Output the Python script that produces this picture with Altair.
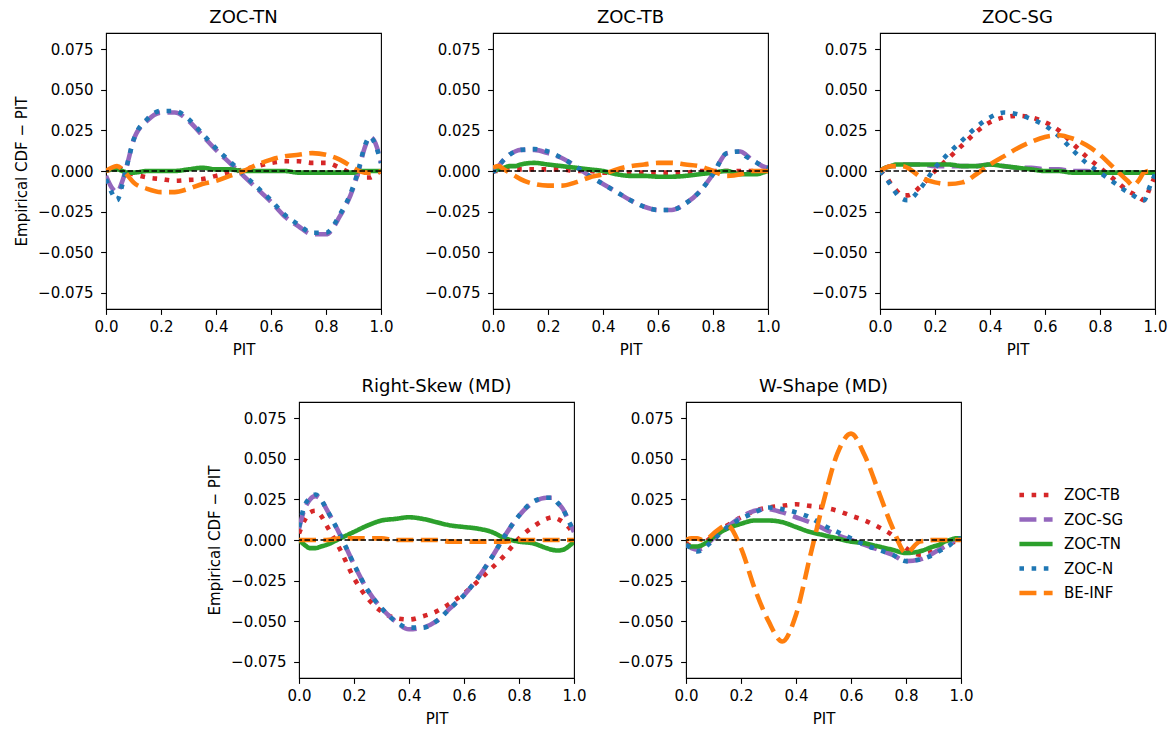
import altair as alt
import pandas as pd

X = [0, .02, .04, .06, .08, .10, .15, .20, .25, .30, .35, .40, .45, .50,
     .55, .60, .65, .70, .75, .80, .85, .90, .92, .94, .96, .98, 1.0]

MODELS = ["ZOC-TB", "ZOC-SG", "ZOC-TN", "ZOC-N", "BE-INF"]
COLORS = ["#d62728", "#9467bd", "#2ca02c", "#1f77b4", "#ff7f0e"]
DASHES = [[4.6, 7.6], [17, 7.4], [1, 0], [4.6, 7.6], [17, 7.4]]
PANELS = ["ZOC-TN", "ZOC-TB", "ZOC-SG", "Right-Skew (MD)", "W-Shape (MD)"]
Y_TICKS = [-0.075, -0.05, -0.025, 0.0, 0.025, 0.05, 0.075]
X_TICKS = [0.0, 0.2, 0.4, 0.6, 0.8, 1.0]

# Panel 1: ZOC-TN
p1_tb = [0.000, 0.001, 0.002, 0.001, -0.001, -0.002, -0.004, -0.005, -0.006, -0.0055, -0.005, -0.003, -0.001, 0.001,
         0.003, 0.005, 0.006, 0.006, 0.005, 0.005, 0.002, -0.002, -0.003, -0.004, -0.004, -0.002, 0.000]
p1_sg = [-0.003, -0.010, -0.013, -0.006, 0.006, 0.019, 0.031, 0.036, 0.036, 0.031, 0.022, 0.013, 0.005, -0.003,
         -0.011, -0.019, -0.028, -0.034, -0.039, -0.039, -0.028, -0.010, 0.001, 0.014, 0.021, 0.017, 0.005]
p1_tn = [0.000, 0.001, 0.001, 0.000, -0.001, -0.001, 0.000, 0.000, 0.000, 0.001, 0.002, 0.001, 0.001, 0.000,
         0.000, 0.000, 0.000, -0.001, -0.001, -0.001, -0.001, -0.001, 0.000, 0.000, 0.000, 0.000, 0.000]
p1_n = [-0.005, -0.013, -0.018, -0.008, 0.006, 0.019, 0.032, 0.037, 0.037, 0.032, 0.023, 0.014, 0.006, -0.002,
        -0.010, -0.018, -0.027, -0.033, -0.038, -0.038, -0.027, -0.009, 0.002, 0.015, 0.021, 0.016, 0.005]
p1_be = [0.000, 0.002, 0.003, 0.001, -0.003, -0.007, -0.011, -0.013, -0.013, -0.011, -0.008, -0.006, -0.003, 0.000,
         0.004, 0.007, 0.009, 0.010, 0.011, 0.010, 0.007, 0.002, 0.000, -0.001, -0.001, -0.001, 0.000]

# Panel 2: ZOC-TB
p2_tb = [0.000, 0.000, 0.001, 0.001, 0.001, 0.001, 0.001, 0.001, 0.001, 0.000, 0.000, -0.001, -0.001, -0.001,
         -0.001, -0.001, -0.001, -0.001, 0.000, 0.000, 0.000, 0.000, 0.000, 0.000, 0.000, 0.000, 0.000]
p2_sg = [-0.001, 0.003, 0.007, 0.010, 0.012, 0.013, 0.013, 0.011, 0.008, 0.003, -0.003, -0.008, -0.013, -0.018,
         -0.022, -0.024, -0.024, -0.020, -0.013, -0.002, 0.011, 0.012, 0.010, 0.007, 0.005, 0.003, 0.002]
p2_tn = [0.000, 0.001, 0.002, 0.003, 0.003, 0.004, 0.005, 0.004, 0.003, 0.002, 0.001, 0.000, -0.002, -0.003,
         -0.003, -0.0035, -0.0035, -0.003, -0.002, -0.001, 0.000, -0.002, -0.002, -0.002, -0.002, -0.001, 0.000]
p2_n = [-0.001, 0.003, 0.007, 0.010, 0.012, 0.013, 0.0135, 0.012, 0.008, 0.003, -0.003, -0.008, -0.013, -0.018,
        -0.022, -0.024, -0.024, -0.020, -0.013, -0.002, 0.011, 0.012, 0.009, 0.007, 0.005, 0.003, 0.002]
p2_be = [0.002, 0.003, 0.001, -0.001, -0.003, -0.005, -0.008, -0.009, -0.009, -0.007, -0.004, -0.002, 0.001, 0.003,
         0.004, 0.005, 0.005, 0.004, 0.003, 0.000, -0.003, -0.002, -0.001, 0.000, 0.000, 0.000, 0.000]

# Panel 3: ZOC-SG
p3_tb = [0.000, -0.003, -0.008, -0.012, -0.015, -0.015, -0.009, 0.000, 0.008, 0.016, 0.024, 0.030, 0.033, 0.034,
         0.033, 0.030, 0.025, 0.017, 0.009, 0.002, -0.005, -0.012, -0.014, -0.016, -0.018, -0.011, -0.003]
p3_sg = [0.000, 0.002, 0.003, 0.003, 0.004, 0.004, 0.004, 0.003, 0.003, 0.003, 0.003, 0.004, 0.003, 0.002,
         0.002, 0.001, 0.001, 0.000, 0.000, -0.001, -0.001, -0.001, -0.001, -0.001, -0.001, -0.001, -0.001]
p3_tn = [0.000, 0.002, 0.003, 0.004, 0.004, 0.004, 0.004, 0.004, 0.004, 0.003, 0.003, 0.004, 0.003, 0.002,
         0.001, 0.000, 0.000, -0.001, -0.001, -0.001, -0.001, -0.001, -0.001, -0.001, -0.001, -0.001, -0.001]
p3_n = [0.000, -0.004, -0.009, -0.014, -0.017, -0.018, -0.010, 0.002, 0.011, 0.019, 0.027, 0.033, 0.036, 0.035,
        0.032, 0.028, 0.0215, 0.013, 0.005, -0.001, -0.007, -0.013, -0.015, -0.017, -0.018, -0.010, -0.002]
p3_be = [0.000, 0.002, 0.003, 0.003, 0.003, 0.002, -0.004, -0.007, -0.008, -0.007, -0.002, 0.004, 0.009, 0.014,
         0.018, 0.021, 0.022, 0.020, 0.016, 0.010, 0.002, -0.006, -0.009, -0.006, -0.001, 0.000, 0.000]

# Panel 4: Right-Skew (MD)
p4_tb = [0.004, 0.012, 0.017, 0.018, 0.015, 0.009, -0.006, -0.0235, -0.036, -0.044, -0.048, -0.049, -0.047, -0.044,
         -0.039, -0.033, -0.0255, -0.0175, -0.009, 0.001, 0.008, 0.013, 0.014, 0.013, 0.011, 0.008, 0.003]
p4_sg = [0.007, 0.019, 0.025, 0.027, 0.025, 0.019, 0.003, -0.015, -0.031, -0.042, -0.050, -0.055, -0.054, -0.050,
         -0.042, -0.034, -0.0235, -0.011, 0.003, 0.015, 0.023, 0.026, 0.026, 0.023, 0.019, 0.012, 0.005]
p4_tn = [0.000, -0.003, -0.005, -0.005, -0.004, -0.003, 0.001, 0.005, 0.009, 0.012, 0.013, 0.014, 0.013, 0.011,
         0.009, 0.008, 0.007, 0.005, 0.001, -0.001, -0.002, -0.005, -0.006, -0.0065, -0.006, -0.004, -0.001]
p4_n = [0.008, 0.021, 0.026, 0.028, 0.025, 0.019, 0.003, -0.015, -0.031, -0.042, -0.050, -0.054, -0.054, -0.050,
        -0.042, -0.034, -0.0235, -0.011, 0.003, 0.015, 0.0235, 0.026, 0.026, 0.023, 0.019, 0.012, 0.005]
p4_be = [0.000, 0.000, 0.000, 0.000, 0.000, 0.000, 0.001, 0.001, 0.001, 0.001, 0.000, 0.000, 0.000, 0.000,
         -0.001, -0.001, -0.001, -0.001, -0.001, 0.000, 0.000, 0.000, 0.000, 0.000, 0.000, 0.000, 0.000]

# Panel 5: W-Shape (MD)
p5_tb = [-0.002, -0.004, -0.005, -0.003, 0.000, 0.003, 0.009, 0.014, 0.018, 0.020, 0.021, 0.022, 0.021, 0.020,
         0.018, 0.015, 0.012, 0.008, 0.003, -0.005, -0.009, -0.007, -0.006, -0.004, -0.002, -0.001, 0.000]
p5_sg = [-0.003, -0.005, -0.006, -0.005, -0.002, 0.001, 0.008, 0.014, 0.018, 0.019, 0.017, 0.014, 0.011, 0.007,
         0.003, 0.000, -0.003, -0.006, -0.009, -0.013, -0.012, -0.008, -0.006, -0.004, -0.002, 0.000, 0.001]
p5_tn = [-0.003, -0.004, -0.004, -0.003, -0.001, 0.002, 0.007, 0.010, 0.012, 0.012, 0.011, 0.008, 0.005, 0.003,
         0.001, -0.001, -0.002, -0.004, -0.006, -0.008, -0.007, -0.004, -0.003, -0.001, 0.000, 0.001, 0.001]
p5_n = [-0.003, -0.005, -0.007, -0.006, -0.003, 0.000, 0.008, 0.013, 0.017, 0.020, 0.019, 0.017, 0.014, 0.009,
        0.005, 0.001, -0.003, -0.006, -0.009, -0.013, -0.012, -0.009, -0.007, -0.005, -0.003, 0.000, 0.001]
p5_be = [0.000, 0.001, 0.001, 0.000, 0.001, 0.004, 0.009, -0.005, -0.030, -0.050, -0.0625, -0.046, -0.011, 0.0235,
         0.053, 0.0655, 0.052, 0.030, 0.008, -0.008, -0.001, 0.000, 0.000, 0.000, 0.000, 0.000, 0.000]

SERIES = {
    "ZOC-TN": [p1_tb, p1_sg, p1_tn, p1_n, p1_be],
    "ZOC-TB": [p2_tb, p2_sg, p2_tn, p2_n, p2_be],
    "ZOC-SG": [p3_tb, p3_sg, p3_tn, p3_n, p3_be],
    "Right-Skew (MD)": [p4_tb, p4_sg, p4_tn, p4_n, p4_be],
    "W-Shape (MD)": [p5_tb, p5_sg, p5_tn, p5_n, p5_be],
}

rows = []
for pname in PANELS:
    for m, vals in zip(MODELS, SERIES[pname]):
        for xv, yv in zip(X, vals):
            rows.append({"panel": pname, "model": m, "x": xv, "y": yv})
df = pd.DataFrame(rows)
zero_df = pd.DataFrame({"y": [0.0]})

W, H = 275, 276
LW = 4.6

legend = alt.Legend(
    title=None, orient="none", legendX=911, legendY=452,
    labelFontSize=15, labelColor="black", labelFont="DejaVu Sans",
    symbolType="stroke", symbolStrokeWidth=LW, symbolSize=1100,
    clipHeight=20, rowPadding=4.5, labelOffset=9,
)


def panel(name, ytitle):
    yaxis = dict(values=Y_TICKS, format=".3f")
    if ytitle:
        yaxis["title"] = "Empirical CDF \u2212 PIT"
    else:
        yaxis["title"] = None
    sub = df[df.panel == name]
    layers = []
    for m in MODELS:
        layers.append(
            alt.Chart(sub[sub.model == m]).mark_line(
                interpolate="monotone", strokeWidth=LW, strokeCap="butt", clip=True
            ).encode(
                x=alt.X("x:Q", scale=alt.Scale(domain=[0, 1], nice=False, zero=False),
                        axis=alt.Axis(values=X_TICKS, format=".1f", title="PIT")),
                y=alt.Y("y:Q", scale=alt.Scale(domain=[-0.085, 0.085], nice=False, zero=False),
                        axis=alt.Axis(**yaxis)),
                color=alt.Color("model:N", scale=alt.Scale(domain=MODELS, range=COLORS), legend=legend),
                strokeDash=alt.StrokeDash("model:N", scale=alt.Scale(domain=MODELS, range=DASHES), legend=legend),
            )
        )
    zero = alt.Chart(zero_df).mark_rule(color="black", strokeDash=[5.5, 2.5], strokeWidth=1.5).encode(
        y=alt.Y("y:Q")
    )
    return alt.layer(*layers, zero).properties(width=W, height=H, title=name)


spacer = alt.Chart(zero_df).mark_point(opacity=0).encode(
    x=alt.value(0), y=alt.value(0)
).properties(width=81, height=H, view=alt.ViewBackground(stroke="transparent"))

top = alt.hconcat(panel("ZOC-TN", True), panel("ZOC-TB", False), panel("ZOC-SG", False),
                  spacing=112, bounds="flush")
bottom = alt.hconcat(spacer, panel("Right-Skew (MD)", True), panel("W-Shape (MD)", False),
                     spacing=112, bounds="flush")

chart = alt.vconcat(top, bottom, spacing=19).resolve_scale(
    color="shared", strokeDash="shared"
).properties(
    padding={"left": 14, "top": 8, "right": 5, "bottom": 5}
).configure(
    font="DejaVu Sans"
).configure_view(
    stroke="black", strokeWidth=1.1
).configure_axis(
    domain=False, grid=False, ticks=True, tickSize=5.4, tickColor="black", tickWidth=1.1,
    labelFontSize=15, labelColor="black", labelFont="DejaVu Sans", labelFlush=False,
    titleFontSize=15, titleFontWeight="normal", titleColor="black", titleFont="DejaVu Sans",
    titlePadding=8,
).configure_axisY(
    labelPadding=7.5
).configure_axisX(
    labelPadding=5
).configure_title(
    fontSize=18, fontWeight="normal", color="black", font="DejaVu Sans", offset=6
)

chart.save("out.html", embed_options={"renderer": "svg", "actions": False})
